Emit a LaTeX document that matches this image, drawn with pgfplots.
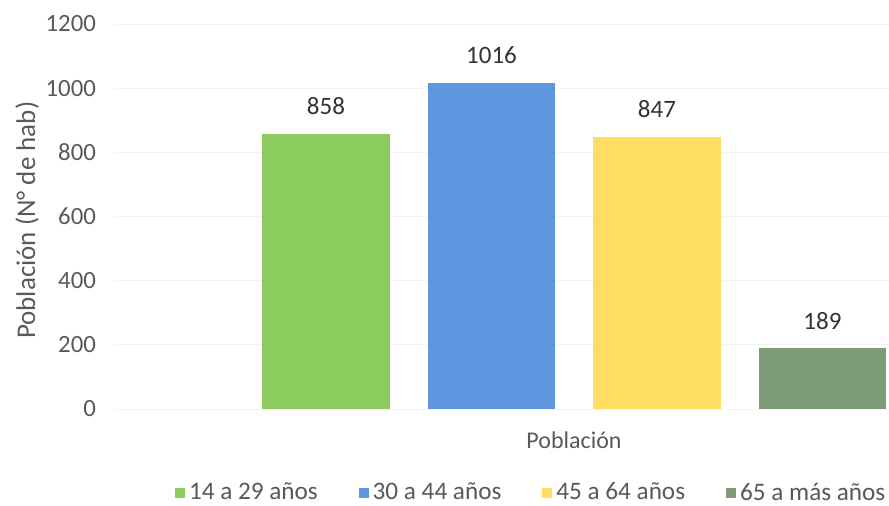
\documentclass[border=0pt]{standalone}
\usepackage{pgfplots}
\pgfplotsset{compat=1.18}
\usepackage{fontspec}
\setmainfont{Carlito}
\definecolor{cgreen}{RGB}{140,204,94}
\definecolor{cblue}{RGB}{95,150,224}
\definecolor{cyellow}{RGB}{255,221,98}
\definecolor{cgray}{RGB}{126,155,120}
\definecolor{txt}{RGB}{89,89,89}
\begin{document}
\begin{tikzpicture}
\begin{axis}[
  width=387pt, height=192.5pt, scale only axis,
  xmin=-1.275, xmax=3.402,
  ymin=0, ymax=1200,
  ytick={0,200,...,1200},
  xtick=\empty,
  axis line style={draw=none},
  major tick length=0pt,
  ymajorgrids, grid style={gray!9},
  font=\fontsize{12.4}{14}\selectfont,
  tick label style={text=txt},
  /pgf/number format/assume math mode=true,
  /pgf/number format/1000 sep={},
  yticklabel style={xshift=-6pt},
  ylabel={Población (N° de hab)},
  ylabel style={text=txt, font=\fontsize{13.5}{15}\selectfont, at={(axis description cs:0,0.49)}, anchor=center, yshift=44pt},
  xlabel={Población},
  xlabel style={text=txt, font=\fontsize{12}{14}\selectfont, at={(axis description cs:0.593,0)}, anchor=center, yshift=-15.5pt},
  ybar, bar width=0.773, bar shift=0pt,
  nodes near coords,
  nodes near coords style={text=black!80, font=\fontsize{12.5}{14}\selectfont, anchor=south, yshift=6pt},
  legend columns=4,
  legend style={draw=none, at={(axis description cs:0.539,0)}, anchor=center, yshift=-42pt,
    font=\fontsize{12.6}{14}\selectfont, text=txt,
    /tikz/every even column/.append style={column sep=18.5pt}},
  legend image code/.code={\fill[#1] (0pt,-2.5pt) rectangle (5pt,2.5pt);},
]
\addplot[fill=cgreen, draw=none] coordinates {(0,858)};
\addplot[fill=cblue, draw=none] coordinates {(1,1016)};
\addplot[fill=cyellow, draw=none] coordinates {(2,847)};
\addplot[fill=cgray, draw=none] coordinates {(3,189)};
\legend{14 a 29 años, 30 a 44 años, 45 a 64 años, 65 a más años}
\end{axis}
\pgfresetboundingbox
\path ([xshift=-57.5pt,yshift=-48.5pt]current axis.south west) rectangle ([yshift=12pt]current axis.north east);
\end{tikzpicture}
\end{document}
